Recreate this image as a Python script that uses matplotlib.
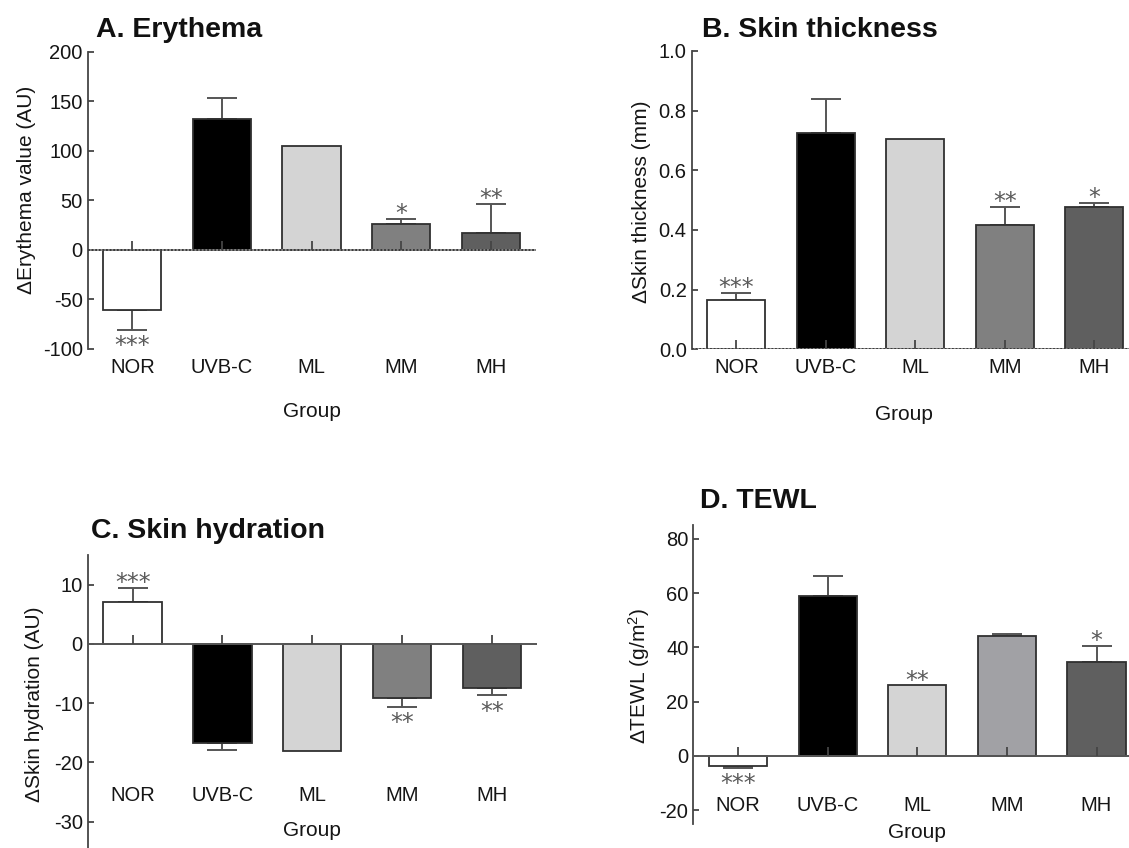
import numpy as np
import matplotlib
matplotlib.use("Agg")
import matplotlib.pyplot as plt
from matplotlib.markers import TICKUP

plt.rcParams['font.family'] = ['Liberation Sans', 'DejaVu Sans']
plt.rcParams['mathtext.default'] = 'regular'
plt.rcParams['axes.unicode_minus'] = False

# ---------------- data ----------------
groups = ["NOR", "UVB-C", "ML", "MM", "MH"]

erythema_mean = [-61.0, 132.5, 104.5, 26.0, 17.0]
erythema_sem = [19.5, 21.0, 0.0, 5.0, 29.5]
erythema_sig = ["***", "", "", "*", "**"]

thickness_mean = [0.165, 0.726, 0.706, 0.418, 0.476]
thickness_sem = [0.025, 0.113, 0.0, 0.060, 0.014]
thickness_sig = ["***", "", "", "**", "*"]

hydration_mean = [7.1, -16.75, -18.15, -9.1, -7.5]
hydration_sem = [2.4, 1.15, 0.0, 1.5, 1.2]
hydration_sig = ["***", "", "", "**", "**"]

tewl_mean = [-3.6, 58.9, 26.0, 44.3, 34.6]
tewl_sem = [0.7, 7.5, 0.0, 0.7, 6.0]
tewl_sig = ["***", "", "**", "", "*"]

colors_abc = ["#ffffff", "#000000", "#d4d4d4", "#808080", "#5f5f5f"]
colors_d = ["#ffffff", "#000000", "#d4d4d4", "#a1a1a5", "#5f5f5f"]

W, H = 1129, 848
fig = plt.figure(figsize=(W / 100, H / 100), dpi=100)


def px_axes(left, top, right, bottom):
    return fig.add_axes([left / W, 1 - bottom / H, (right - left) / W, (bottom - top) / H])


AX_COL = "#454545"
STAR_COL = "#5a5a5a"
TXT_COL = "#151515"


def panel(ax, means, sems, sigs, colors, ylim, yticks, yfmt, title, title_pos,
          ylabel, ylabel_pos, xlabel_pos, xtick_spine_y, dotted_zero):
    means = np.asarray(means, float)
    sems = np.asarray(sems, float)
    x = np.arange(len(groups))
    ax.bar(x, means, width=0.65, color=colors, edgecolor="#303030", linewidth=1.3, zorder=2)
    lower = np.where(means < 0, sems, 0.0)
    upper = np.where(means >= 0, sems, 0.0)
    m = sems > 0
    ax.errorbar(x[m], means[m], yerr=[lower[m], upper[m]], fmt="none",
                ecolor="#555555", elinewidth=1.4, capsize=11, capthick=1.4, zorder=1.5)
    if dotted_zero:
        ax.axhline(0, color="#8a8a8a", lw=1.3, zorder=3)
        ax.axhline(0, color="#333333", lw=1.3, ls=(0, (1, 1)), zorder=3.1)
    else:
        ax.axhline(0, color="#555555", lw=1.4, zorder=3)
    ax.plot(x, np.zeros(len(x)), linestyle="none", marker=TICKUP, markersize=6.5,
            markeredgewidth=1.3, color=AX_COL, zorder=4)
    # significance stars
    for xi, mu, se, s in zip(x, means, sems, sigs):
        if not s:
            continue
        if mu >= 0:
            ax.annotate(s, (xi, mu + se), xytext=(0, -1.5), textcoords="offset points",
                        ha="center", va="baseline", fontsize=17, color=STAR_COL,
                        family="DejaVu Sans", zorder=5)
        else:
            ax.annotate(s, (xi, mu - se), xytext=(0, -17), textcoords="offset points",
                        ha="center", va="baseline", fontsize=17, color=STAR_COL,
                        family="DejaVu Sans", zorder=5)
    ax.set_xlim(-0.5, 4.5)
    ax.set_ylim(*ylim)
    ax.set_yticks(yticks)
    ax.set_yticklabels([yfmt.format(v) for v in yticks])
    ax.set_xticks(x)
    ax.set_xticklabels(groups)
    for sp in ["top", "right"]:
        ax.spines[sp].set_visible(False)
    ax.spines["bottom"].set_visible(False)
    if xtick_spine_y is not None:
        ax.spines["bottom"].set_position(("data", xtick_spine_y))
    ax.spines["left"].set_color(AX_COL)
    ax.spines["left"].set_linewidth(1.3)
    ax.tick_params(axis="y", direction="in", length=4.5, width=1.3, color=AX_COL,
                   pad=3.5, labelsize=14.5, labelcolor=TXT_COL)
    ax.tick_params(axis="x", length=0, pad=6.5, labelsize=14.5, labelcolor=TXT_COL)
    ax.set_ylabel(ylabel, fontsize=15, color=TXT_COL, va="center", ha="center")
    ax.yaxis.set_label_coords(*ylabel_pos)
    ax.set_xlabel("Group", fontsize=15, color=TXT_COL, va="center", ha="center")
    ax.xaxis.set_label_coords(*xlabel_pos)
    ax.text(title_pos[0], title_pos[1], title, transform=ax.transAxes, ha="left",
            va="baseline", fontsize=20.5, fontweight="bold", color="#111111")


# Panel A
axA = px_axes(87.5, 51.7, 535.7, 349.0)
panel(axA, erythema_mean, erythema_sem, erythema_sig, colors_abc,
      (-100, 200), [-100, -50, 0, 50, 100, 150, 200], "{:g}",
      "A. Erythema", (0.019, 1.05),
      "\u0394Erythema value (AU)", (-0.135, 0.535), (0.5, -0.211), None, True)

# Panel B
axB = px_axes(691.6, 51.0, 691.6 + 447.5, 349.3)
panel(axB, thickness_mean, thickness_sem, thickness_sig, colors_abc,
      (0, 1.0), [0.0, 0.2, 0.4, 0.6, 0.8, 1.0], "{:.1f}",
      "B. Skin thickness", (0.024, 1.048),
      "\u0394Skin thickness (mm)", (-0.113, 0.494), (0.4735, -0.220), None, True)

# Panel C
axC = px_axes(87.7, 555.2, 536.8, 851.1)
panel(axC, hydration_mean, hydration_sem, hydration_sig, colors_abc,
      (-35, 15), [-30, -20, -10, 0, 10], "{:g}",
      "C. Skin hydration", (0.008, 1.057),
      "\u0394Skin hydration (AU)", (-0.118, 0.497), (0.5, 0.069), -22.4, False)

# Panel D
axD = px_axes(693.3, 525.4, 693.3 + 448.0, 823.8)
panel(axD, tewl_mean, tewl_sem, tewl_sig, colors_d,
      (-25, 85), [-20, 0, 20, 40, 60, 80], "{:g}",
      "D. TEWL", (0.015, 1.057),
      "\u0394TEWL (g/m$^{2}$)", (-0.121, 0.496), (0.5, -0.030), -11.6, False)

fig.savefig("out.png", dpi=100)
